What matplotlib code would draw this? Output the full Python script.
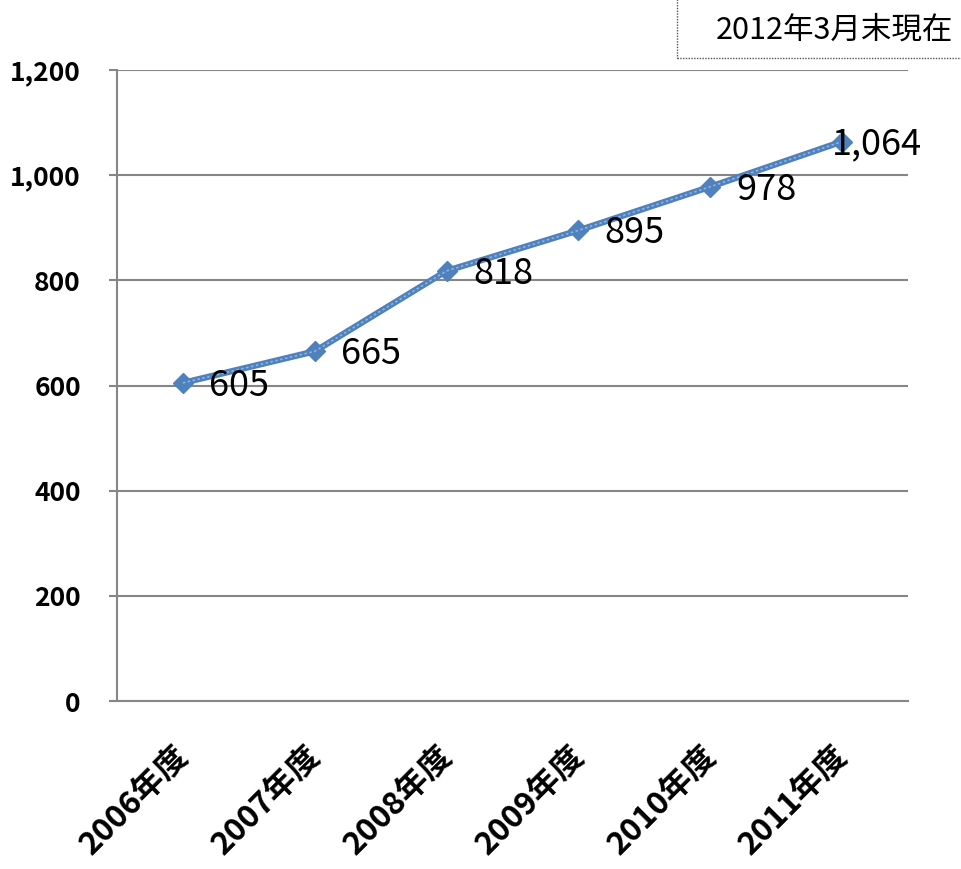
import matplotlib
matplotlib.use("Agg")
import matplotlib.pyplot as plt
import matplotlib.transforms as mtransforms
from matplotlib.patches import Rectangle

plt.rcParams['font.family'] = ['Noto Sans CJK JP', 'DejaVu Sans']

years = ["2006年度", "2007年度", "2008年度", "2009年度", "2010年度", "2011年度"]
counts = [605, 665, 818, 895, 978, 1064]
yticks = [0, 200, 400, 600, 800, 1000, 1200]
note = "2012年3月末現在"

fig = plt.figure(figsize=(9.61, 8.69), dpi=100)
ax = fig.add_axes([0.1217, 0.1933, 0.8231, 0.7261])

x = list(range(len(years)))
ax.plot(x, counts, color="#4F81BD", lw=4.5, marker="D", ms=10, zorder=3)
ax.plot(x, counts, color="#8DB3E2", lw=1.2, ls=(0, (1.5, 1.5)), zorder=4)

for i, v in enumerate(counts):
    off = (19, -2) if i < len(counts) - 1 else (-7, -2)
    ax.annotate(f"{v:,}", (i, v), xytext=off, textcoords="offset points",
                ha="left", va="center", fontsize=26, color="black", zorder=5)

ax.set_xlim(-0.5, len(years) - 0.5)
ax.set_ylim(0, 1200)
ax.set_yticks(yticks)
ax.set_yticklabels([f"{t:,}" for t in yticks], fontsize=19, fontweight="bold")
ax.set_xticks(x)
ax.set_xticklabels(years, fontsize=23, fontweight="bold", rotation=45,
                   ha="right", va="top", rotation_mode="anchor")
ax.tick_params(axis="x", length=0, pad=28)
ax.tick_params(axis="y", length=6, width=1.5, color="#868686", pad=20)
shift = mtransforms.ScaledTranslation(-10 / 100, 0, fig.dpi_scale_trans)
for lab in ax.get_xticklabels():
    lab.set_transform(lab.get_transform() + shift)
ax.grid(axis="y", color="#868686", lw=1.5)
ax.set_axisbelow(True)
for s in ["top", "right"]:
    ax.spines[s].set_visible(False)
ax.spines["left"].set_color("#868686")
ax.spines["bottom"].set_color("#868686")
ax.spines["left"].set_linewidth(1.5)
ax.spines["bottom"].set_linewidth(1.5)

# note box top right
fig.patches.append(Rectangle((677 / 961, 1 - 58 / 869), 0.4, 0.2,
                             transform=fig.transFigure, fill=False,
                             ls=(0, (1, 1)), lw=1, ec="#555555"))
fig.text(834 / 961, 1 - 30 / 869, note, ha="center", va="center", fontsize=22)

fig.savefig("out.png", dpi=100)
